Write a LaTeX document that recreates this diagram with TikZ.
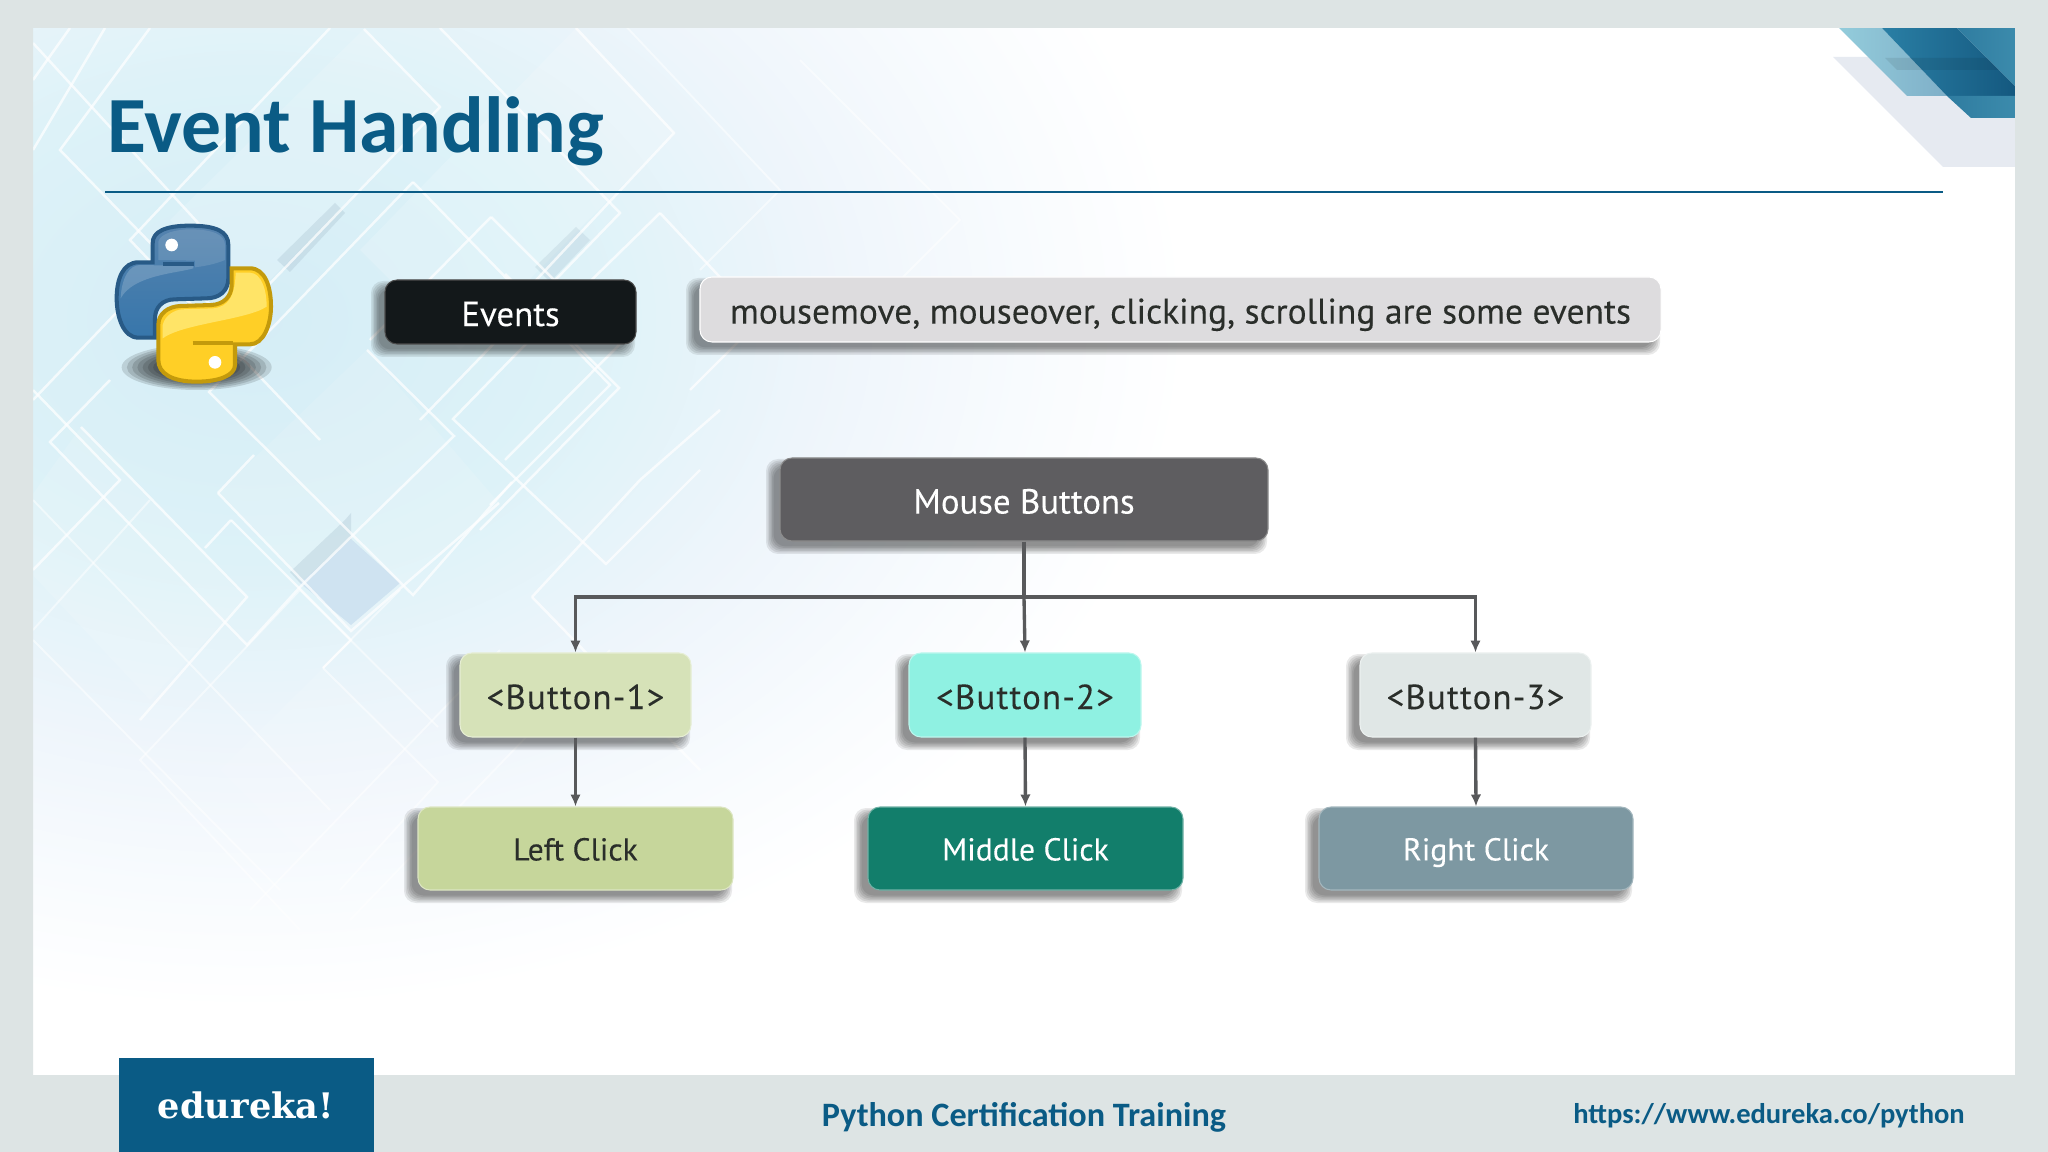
\documentclass[tikz,border=0pt]{standalone}
\usepackage{fontspec}
\setmainfont{PT Sans}
\newfontfamily\carl{Carlito}
\newfontfamily\slab{DejaVu Serif}
\usetikzlibrary{arrows.meta}
\definecolor{framebg}{HTML}{DDE4E4}
\definecolor{brandblue}{HTML}{0A5B85}
\definecolor{linkgray}{HTML}{58595B}
\definecolor{bgA}{HTML}{D5EDF6}
\definecolor{bgB}{HTML}{DDF2F8}
\definecolor{bgC}{HTML}{EEF5FB}
\definecolor{bgD}{HTML}{F8FBFE}
\definecolor{ribpale}{HTML}{E6EAF1}
\definecolor{ribA}{HTML}{93CCDB}
\definecolor{ribB}{HTML}{7FAFC8}
\definecolor{ribC}{HTML}{2A7FA5}
\definecolor{ribD}{HTML}{14587F}
\definecolor{ribE}{HTML}{2F7CA0}
\definecolor{ribF}{HTML}{3C8BAC}
\definecolor{pyedgeB}{HTML}{285A86}
\definecolor{pytopB}{HTML}{5583AE}
\definecolor{pybotB}{HTML}{3776AB}
\definecolor{pyedgeY}{HTML}{C39A0C}
\definecolor{pytopY}{HTML}{FFE873}
\definecolor{pybotY}{HTML}{FFCF26}
\definecolor{patchblue}{HTML}{CFE3F1}
\definecolor{bandgray}{HTML}{9DB6C6}
\definecolor{boxev}{HTML}{13181A}
\definecolor{boxde}{HTML}{DDDCDE}
\definecolor{boxmo}{HTML}{5E5D60}
\definecolor{inkdark}{HTML}{2A2E2A}
\definecolor{bonea}{HTML}{D6E2B8}
\definecolor{boneb}{HTML}{8FF1E2}
\definecolor{bonec}{HTML}{E0E7E6}
\definecolor{clicka}{HTML}{C6D69B}
\definecolor{clickb}{HTML}{127E6B}
\definecolor{clickc}{HTML}{7D98A2}
\pgfdeclareradialshading{panelglow}{\pgfpoint{0bp}{0bp}}{color(0bp)=(bgA); color(8bp)=(bgB); color(14bp)=(bgC); color(19bp)=(bgD); color(23bp)=(white); color(50bp)=(white)}
\tikzset{
  bgline/.style={draw=white,line width=.7pt,opacity=.72},
  bgfaint/.style={draw=white,line width=.55pt,opacity=.5},
  boxnode/.style={rectangle,rounded corners=.12cm,inner sep=0pt,text height=.8em,text depth=0pt,align=center},
  linkline/.style={draw=linkgray,line width=.95pt},
  linkarrow/.style={linkline,-{Latex[length=3.4pt,width=3pt]}},
}
\newcommand{\boxfont}[2]{\fontsize{#1}{11}\selectfont\addfontfeatures{FakeBold=0.12,LetterSpace=#2}}
% name, x1, y1, x2, y2, fill, edge, text colour, text
\newcommand{\softbox}[9]{%
  \foreach \s in {6,4.5,3,1.5,0,-1.5}{
    \fill[black,opacity=.085,rounded corners=.12cm] ({#2-8-\s},{#3+7-\s}) rectangle ({#4-7+\s},{#5+7+\s});
  }
  \pgfmathsetmacro{\bw}{(#4-#2)*0.01}
  \pgfmathsetmacro{\bh}{(#5-#3)*0.01}
  \node[boxnode,fill=#6,draw=#7,line width=.3pt,text=#8,minimum width=\bw cm,minimum height=\bh cm] (#1) at ({(#2+#4)/2},{(#3+#5)/2}) {#9};
}
\begin{document}
\begin{tikzpicture}[x=.01cm,y=-.01cm]
\useasboundingbox (0,0) rectangle (2048,1152);
\fill[white] (33,28) rectangle (2015,1075);
\begin{scope}
  \clip (33,28) rectangle (2015,1075);
  % soft backdrop
  \shade[shading=panelglow] (250,320) ellipse (1020 and 750);
  % translucent patches
  \fill[white,opacity=.14] (364,29) -- (440,107) -- (250,300) -- (170,220) -- cycle;
  \fill[white,opacity=.16] (576,28) -- (674,133) -- (460,350) -- (360,250) -- cycle;
  \fill[white,opacity=.12] (218,493) -- (351,631) -- (499,503) -- (367,350) -- cycle;
  \fill[white,opacity=.12] (81,427) -- (247,597) -- (150,700) -- (0,540) -- cycle;
  \fill[white,opacity=.1] (323,668) -- (438,782) -- (340,890) -- (220,770) -- cycle;
  \fill[patchblue] (351,539) -- (400,583) -- (351,625) -- (300,583) -- cycle;
  \fill[bandgray,opacity=.27] (277,260) -- (335,203) -- (345,213) -- (290,272) -- cycle;
  \fill[bandgray,opacity=.22] (535,267) -- (576,227) -- (590,240) -- (550,282) -- cycle;
  \fill[bandgray,opacity=.28] (345,520) -- (351,513) -- (351,539) -- (300,583) -- (290,572) -- cycle;
  % diamond outlines
  \draw[bgline] (33,43) -- (200,225) -- (33,400);
  \draw[bgline] (33,150) -- (105,28);
  \draw[bgline] (70,28) -- (33,80);
  \draw[bgline] (364,29) -- (440,107) -- (230,325) -- (60,150) -- (150,28);
  \draw[bgline] (440,28) -- (620,213) -- (420,420);
  \draw[bgline] (576,28) -- (674,133) -- (480,340);
  \draw[bgline] (330,28) -- (130,240) -- (320,440);
  \draw[bgline] (413,182) -- (280,320) -- (209,392) -- (413,595) -- (512,482);
  \draw[bgline] (413,182) -- (610,385) -- (490,505);
  \draw[bgline] (491,217) -- (370,340);
  \draw[bgline] (491,217) -- (619,345) -- (505,460);
  \draw[bgline] (505,274) -- (619,388) -- (480,530);
  \draw[bgline] (660,213) -- (520,350) -- (453,419) -- (606,564) -- (700,470);
  \draw[bgline] (660,213) -- (760,320) -- (690,390);
  \draw[bgline] (367,350) -- (454,436) -- (351,537) -- (300,587) -- (247,645) -- (50,442) -- (110,380);
  \draw[bgline] (81,427) -- (247,597) -- (140,720);
  \draw[bgline] (218,493) -- (351,631) -- (499,503);
  \draw[bgline] (218,493) -- (254,455);
  \draw[bgline] (231,520) -- (351,640) -- (323,668);
  \draw[bgline] (231,520) -- (205,548);
  \draw[bgline] (33,390) -- (120,480) -- (33,570);
  \draw[bgline] (532,597) -- (640,480) -- (720,410);
  \draw[bgline] (532,597) -- (700,770);
  \draw[bgfaint] (323,668) -- (438,782) -- (340,890);
  \draw[bgfaint] (323,668) -- (400,590);
  \draw[bgfaint] (438,727) -- (300,590) -- (140,760) -- (300,930);
  \draw[bgfaint] (33,500) -- (330,810);
  \draw[bgfaint] (33,640) -- (280,890);
  \draw[bgfaint] (500,650) -- (250,910);
  \draw[bgfaint] (610,650) -- (350,920);
  \draw[bgfaint] (150,500) -- (33,630);
  \draw[bgfaint] (620,20) -- (780,190) -- (700,270);
  \draw[bgfaint] (800,60) -- (960,220) -- (860,320);
  % corner ribbons
  \fill[ribpale] (1833,57) -- (2016,57) -- (2016,167) -- (1943,167) -- cycle;
  \shade[left color=ribA,right color=ribB] (1839,28) -- (1882,28) -- (1947,96) -- (1907,96) -- cycle;
  \shade[left color=ribC,right color=ribD] (1882,28) -- (1957,28) -- (2016,87) -- (2016,96) -- (1947,96) -- cycle;
  \fill[black,opacity=.08] (1885,58) -- (2016,58) -- (2016,70) -- (1897,70) -- cycle;
  \shade[left color=ribE,right color=ribF] (1957,28) -- (2016,28) -- (2016,87) -- cycle;
  \shade[left color=ribE,right color=ribF] (1947,96) -- (2016,96) -- (2016,118) -- (1971,118) -- cycle;
\end{scope}
% frame, over the panel's edges
\fill[framebg,even odd rule] (0,0) rectangle (2048,1152) (33,28) rectangle (2015,1075);
% rule and title
\draw[draw=brandblue,line width=.6pt] (105,192) coordinate (ruleL) -- (1943,192) coordinate (ruleR);
\node[anchor=base west,inner sep=0pt,text=brandblue,font=\carl\bfseries\fontsize{22.65}{24}\selectfont] (title) at (107,153) {Event Handling};
% python logo
\begin{scope}[shift={(100,210)},scale=1/3]
  \foreach \r in {1,.93,.86,.79,.72,.65,.58}{
    \fill[black,opacity=.13] (290,472) ellipse ({225*\r} and {68*\r});
  }
  \draw[draw=pyedgeB,line width=1.15pt,top color=pytopB,bottom color=pybotB]
    (270,47) .. controls (350,47) and (385,65) .. (385,105) -- (385,205) .. controls (385,245) and (355,265) .. (320,265) -- (225,268) .. controls (185,268) and (165,295) .. (165,325) -- (165,383) -- (115,383) .. controls (70,383) and (50,320) .. (50,265) .. controls (50,205) and (70,157) .. (115,157) -- (158,157) -- (158,100) .. controls (158,65) and (195,47) .. (270,47) -- cycle;
  \fill[white,opacity=.18] (62,265) .. controls (65,200) and (90,165) .. (120,165) -- (280,168) -- (280,175) .. controls (230,190) and (100,195) .. (62,265) -- cycle;
  \fill[white,opacity=.12] (175,150) -- (175,95) .. controls (180,70) and (230,58) .. (270,58) .. controls (340,58) and (375,75) .. (375,105) -- (375,150) .. controls (340,165) and (300,170) .. (285,172) -- (285,152) -- cycle;
  \draw[draw=pyedgeB,line width=1.3pt] (190,162) -- (283,162);
  \fill[white] (215,105) circle (19);
  \draw[line width=1.15pt,draw=pyedgeY,fill=pybotY]
    (395,175) -- (450,175) .. controls (495,175) and (513,230) .. (513,290) .. controls (513,345) and (490,403) .. (450,403) -- (405,403) -- (405,465) .. controls (405,495) and (360,515) .. (290,515) .. controls (215,515) and (175,490) .. (175,450) -- (175,345) .. controls (175,310) and (205,290) .. (240,288) -- (335,285) .. controls (370,283) and (395,260) .. (395,225) -- cycle;
  \fill[pytopY,opacity=.85] (188,385) -- (188,345) .. controls (195,315) and (225,300) .. (245,298) -- (340,295) .. controls (385,290) and (405,260) .. (407,188) -- (450,188) .. controls (485,190) and (500,240) .. (500,290) .. controls (440,330) and (250,340) .. (188,385) -- cycle;
  \draw[draw=pyedgeY,line width=1.3pt] (278,399) -- (400,399);
  \fill[white] (345,457) circle (19);
\end{scope}
% boxes
\softbox{events}{385}{280}{636}{344}{boxev}{black!70}{white}{\boxfont{9.9}{0}Events}
\softbox{desc}{700}{277}{1661}{342}{boxde}{white}{inkdark}{\boxfont{10.1}{0}mousemove, mouseover, clicking, scrolling are some events}
\softbox{mouse}{780}{458}{1268}{541}{boxmo}{black!45}{white}{\boxfont{9.9}{0}Mouse Buttons}
\softbox{btnA}{460}{653}{691}{737}{bonea}{bonea!60!white}{inkdark}{\boxfont{9.9}{3.5}<Button-1>}
\softbox{btnB}{909}{653}{1141}{737}{boneb}{boneb!60!white}{inkdark}{\boxfont{9.9}{3.5}<Button-2>}
\softbox{btnC}{1360}{653}{1591}{737}{bonec}{bonec!60!white}{inkdark}{\boxfont{9.9}{3.5}<Button-3>}
\softbox{clickA}{418}{807}{733}{890}{clicka}{clicka!60!white}{inkdark}{\raisebox{.6pt}{\boxfont{9}{0}Left Click}}
\softbox{clickB}{868}{807}{1183}{890}{clickb}{clickb!60!white}{white}{\raisebox{.6pt}{\boxfont{9}{0}Middle Click}}
\softbox{clickC}{1319}{807}{1633}{890}{clickc}{clickc!70!white}{white}{\raisebox{.6pt}{\boxfont{9}{0}Right Click}}
% connectors
\coordinate (hub) at (1024,597);
\draw[linkline] (mouse.south) -- (hub);
\draw[linkarrow] (hub) -| (btnA.north);
\draw[linkarrow] (hub) -| (btnC.north);
\draw[linkarrow] (hub) -- (btnB.north);
\draw[linkarrow] (btnA.south) -- (clickA.north);
\draw[linkarrow] (btnB.south) -- (clickB.north);
\draw[linkarrow] (btnC.south) -- (clickC.north);
% footer
\fill[brandblue] (119,1058) rectangle (374,1152);
\node[anchor=base,inner sep=0pt,text=white,font=\slab\bfseries\fontsize{10}{11}\selectfont] (brand) at (246,1118) {edureka!};
\node[anchor=base,inner sep=0pt,text=brandblue,font=\carl\bfseries\fontsize{9.72}{11}\selectfont] (course) at (1024,1126) {Python Certification Training};
\node[anchor=base,inner sep=0pt,text=brandblue,font=\carl\bfseries\fontsize{8.12}{10}\selectfont] (site) at (1769,1123) {https://www.edureka.co/python};
\end{tikzpicture}
\end{document}
